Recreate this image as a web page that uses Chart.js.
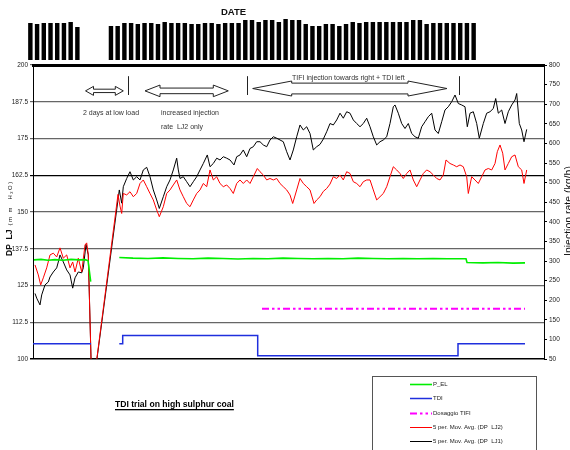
<!DOCTYPE html>
<html>
<head>
<meta charset="utf-8">
<title>TDI trial on high sulphur coal</title>
<script src="https://cdn.jsdelivr.net/npm/chart.js@4.4.1/dist/chart.umd.min.js"></script>
<style>
  html, body { margin: 0; padding: 0; background: #fff; }
  #wrap { position: relative; width: 570px; height: 450px; overflow: hidden; }
  #wrap canvas { position: absolute; left: 0; top: 0; }
  #dateTitle {
    position: absolute; left: 221px; top: 6px; line-height: 12px;
    font: bold 9.5px "Liberation Sans", Arial, sans-serif; color: #111;
  }
</style>
</head>
<body>
<div id="wrap">
  <canvas id="main" width="570" height="450"></canvas>
  <canvas id="dates" width="570" height="65"></canvas>
  <div id="dateTitle">DATE</div>
</div>
<script>
// ---- data ----
// date strip along the top (label lengths, gap = missing days)
const dateBars = [37, 36, 37, 37, 37, 37, 38, 33, null, null, null, null,
  34, 34, 37, 37, 36, 37, 37, 36, 38, 37, 37, 37, 36, 36, 37, 37, 36, 37, 37, 37,
  40, 40, 38, 40, 40, 38, 41, 40, 40, 36, 34, 34, 36, 36, 34, 36, 38, 37, 38, 38,
  38, 38, 38, 38, 38, 40, 40, 36, 37, 37, 37, 37, 37, 37, 37];
const dateSlots = dateBars.map((_, i) => i + 1);

// [time, value] pairs
const lj1 = [[2,122.3],[3.7,120.7],[7,118.4],[8.7,121.8],[12,125.2],[15.3,126.2],[17,127.9],[20.3,129.6],[23.7,131],[25.3,133],[27,135.4],[30.3,133],[33.7,130.3],[37,128.6],[39.7,124.1],[42,127.6],[45.3,129.6],[48.7,129.3],[50.3,131],[53,139],[55.3,135.4],[59,87.3],
  [86.3,157.5],[88.7,153],[90.3,158.6],[93.7,161.4],[97,163.7],[100.3,160.9],[103.7,162],[107,160.9],[110.3,164.3],[113.7,165.2],[117,162],[120.3,157.5],[123.7,154.1],[126.3,151.2],[130.3,155.2],[133.7,158.6],[137,160.9],[140.3,164.3],[143.7,168.3],[145.3,164.3],[147,161.4],[150.3,162],[153.7,160.3],[157,158.6],[160.3,160.3],[163.7,162],[167,164.3],[170.3,166.5],[174.3,169.4],[177,165.4],[180.3,166.5],[183.7,168.3],[187,167.7],[190.3,168.8],[193.7,168.3],[197,167.7],[201,166],[203.7,168.8],[207,169.4],[210.3,171.1],[213.7,168.8],[217,171.6],[220.3,172.2],[223.7,173.9],[227,173.9],[230.3,172.8],[233.7,172.2],[237,174.5],[240.3,175.6],[243.7,175.1],[247,174.5],[250.3,173.9],[253.7,170.5],[257,167.7],[260.3,171.1],[263.7,175.6],[267,179.6],[270.3,177.9],[273.7,179],[277,176.7],[280.3,171.1],[283.7,172.2],[287,173],[290.3,174.8],[293.7,177.3],[297,180.1],[300.3,179.6],[303.7,181.3],[307,183.6],[310.3,181.9],[313.7,184.1],[317,183.6],[320.3,181.3],[323.7,180.1],[327,179],[330.3,180.1],[333.7,181.9],[337,179],[340.3,175.6],[343.7,172.8],[347,173.9],[350.3,174.5],[353.7,175.6],[357,180.1],[360.3,185.8],[362,186.4],[365.3,183.6],[368.7,180.1],[372,178.4],[375.3,180.1],[378.7,176.7],[382,175.6],[385.3,175.1],[388.7,179],[392,180.7],[395.3,182.4],[398.7,183.6],[402,177.9],[405.3,176.7],[408.7,180.7],[412,184.7],[415.3,185.8],[418.7,187.5],[422,189.8],[425.3,186.9],[428.7,186.4],[432,185.8],[434.3,179],[437,183.6],[440.3,184.1],[443.7,180.1],[446.3,175.1],[450.3,180.1],[453.7,183.6],[457,184.1],[460.3,185.2],[462.7,188.6],[465.3,183.6],[468.7,184.7],[472,180.1],[475.3,184.1],[478.7,186.4],[482,188.1],[483.7,190.3],[486.3,180.1],[488.7,177.9],[491,173.9],[493.7,178.1]];

const lj2 = [[2,132],[5.3,128.6],[7.7,125.2],[10.3,127.6],[13.7,131],[17,135.4],[20.3,136],[23.7,134.7],[27,137.8],[30.3,134.3],[33.7,135.4],[37,131],[39.7,133],[42,129.6],[45.3,134.3],[48.7,129.6],[52,138.8],[53.7,139.5],[55.3,135.4],[59,87.3],
  [85,156],[87,152],[88.7,149.5],[90.3,156.3],[93.7,155.8],[97,156.9],[100.3,155.2],[103.7,156.3],[107,159.7],[110.3,160.9],[113.7,158.6],[117,156.3],[120.3,154.1],[123.7,150.7],[126.3,148.4],[130.3,151.8],[133.7,156.3],[137,157.5],[140.3,159.2],[143.7,160.9],[147,157.5],[150.3,155.2],[153.7,152.9],[157,151.8],[160.3,154.1],[163.7,156.3],[167,157.5],[170.3,159.7],[173.7,158.6],[177,164.3],[180.3,160.9],[183.7,162],[187,159.7],[190.3,158.6],[193.7,159.2],[197,158],[200.3,156.3],[203.7,159.7],[207,160.9],[210.3,159.7],[213.7,160.9],[217,159.7],[220.3,162],[224.3,164.8],[227,163.7],[230.3,162.6],[233.7,160.9],[237,161.4],[240.3,160.9],[243.7,161.4],[247,159.7],[250.3,158.6],[253.7,157.5],[257,155.8],[259.7,152.9],[263.7,157.5],[267,161.4],[270.3,159.7],[273.7,158.6],[277,157.5],[281,152.9],[283.7,154.1],[287,155.2],[290.3,157],[293.7,158],[297,159.5],[300.3,162],[303.7,161.4],[307,162.6],[310.3,160.9],[313.7,163.7],[317,163.1],[320.3,160.3],[323.7,159.7],[327,158.6],[330.3,160.3],[333.7,160.9],[337,160.9],[340.3,157.5],[343.7,154.1],[347,155.2],[350.3,156.3],[353.7,158.6],[357,162],[360.3,165.4],[363.7,164.3],[367,163.1],[370.3,161.4],[373.7,163.1],[377,164.3],[380.3,160.9],[383.7,158.6],[387,160.9],[390.3,163.1],[393.7,164.3],[397,163.7],[400.3,162.6],[403.7,161.4],[407,160.9],[410.3,162.6],[413,167.7],[417,166.5],[420.3,166],[423.7,165.4],[427,166],[430.3,165.4],[433.7,162],[435.3,156.3],[438.7,162],[442,160.9],[445.3,159.7],[448.7,162],[452,164.3],[455.3,164.8],[458.7,164.3],[462,166.5],[464.3,170.5],[467,172.8],[469.7,170],[472,164.3],[475.3,166.5],[478.7,168.8],[482,169.4],[485.3,165.4],[488.7,164.3],[491,159.7],[493.7,164.3]];

const pEl = [[1,133.7],[8,133.9],[15,133.6],[22,133.8],[30,133.6],[38,133.9],[46,133.7],[52,133.8],[55,133.5],[57.7,126.3],[70,null],
  [86.3,134.5],[100,134.3],[115,134.2],[130,134.4],[145,134.2],[160,134.1],[175,134.3],[190,134.2],[205,134.0],[220,134.2],[235,134.1],[250,134.3],[265,134.2],[280,134.1],[295,134.2],[310,134.1],[325,134.3],[340,134.2],[355,134.1],[370,134.2],[385,134.1],[400,134.2],[415,134.1],[433,134.1],
  [434,132.8],[450,132.7],[465,132.8],[480,132.6],[492,132.7]];

// injection rates, kg/h (right axis)
const tdi = [[0,89],[58,89],[70,null],[86.3,89],[89.7,110],[224.7,58],[425,89],[492,89]];
const tifi = [[229,178],[492,178]];

// axis ranges
const dpRange = [100, 200, 12.5];
const rateRange = [50, 800, 50];
const timeRange = [0, 511];

// notes over the plot, in data units (time, DP)
const notes = [
  ['2 days at low load', 50, 183.7],
  ['increased injection', 128, 183.7],
  ['rate  LJ2 only', 128, 178.9],
  ['TIFI injection towards right + TDI left', 259, 195.4]
];
// hollow double arrows: from, to, DP level, head length, head half-height, shaft half-height
const spans = [
  [52.5, 90.3, 191.2, 8, 4.5, 1.7],
  [112, 195.3, 191.2, 15, 5.8, 2.8],
  [219.7, 414, 192.0, 39, 7.5, 5.4]
];
const marks = [95.3, 214.3, 426.3];

const FONT = '"Liberation Sans", Arial, sans-serif';
Chart.defaults.font.family = FONT;
Chart.defaults.color = '#222';

// ---- date strip ----
new Chart(document.getElementById('dates'), {
  type: 'bar',
  data: {
    labels: dateSlots,
    datasets: [{ data: dateBars, backgroundColor: '#000', barPercentage: 0.66, categoryPercentage: 1 }]
  },
  options: {
    responsive: false,
    animation: false,
    layout: { padding: { left: 27, right: 93, top: 18, bottom: 5 } },
    plugins: { legend: { display: false }, tooltip: { enabled: false } },
    scales: {
      x: { display: false },
      y: { display: false, min: 0, max: 42 }
    }
  }
});

// ---- main chart ----
const xy = pairs => pairs.map(p => ({ x: p[0], y: p[1] }));

const decor = {
  id: 'decor',
  afterDraw(chart) {
    const { ctx, scales: { x, y } } = chart;
    const px = v => x.getPixelForValue(v);
    const py = v => y.getPixelForValue(v);
    ctx.save();

    // vertical markers
    ctx.strokeStyle = '#222';
    ctx.lineWidth = 1;
    marks.forEach(m => {
      const xx = Math.round(px(m)) + 0.5;
      ctx.beginPath();
      ctx.moveTo(xx, py(189.8));
      ctx.lineTo(xx, py(196.2));
      ctx.stroke();
    });

    // hollow arrows
    spans.forEach(([a, b, lvl, hl, hh, sh]) => {
      const x1 = px(a), x2 = px(b), yc = py(lvl);
      ctx.beginPath();
      ctx.moveTo(x1, yc);
      ctx.lineTo(x1 + hl, yc - hh);
      ctx.lineTo(x1 + hl, yc - sh);
      ctx.lineTo(x2 - hl, yc - sh);
      ctx.lineTo(x2 - hl, yc - hh);
      ctx.lineTo(x2, yc);
      ctx.lineTo(x2 - hl, yc + hh);
      ctx.lineTo(x2 - hl, yc + sh);
      ctx.lineTo(x1 + hl, yc + sh);
      ctx.lineTo(x1 + hl, yc + hh);
      ctx.closePath();
      ctx.fillStyle = '#fff';
      ctx.fill();
      ctx.stroke();
    });

    // notes
    ctx.fillStyle = '#333';
    ctx.font = '7px ' + FONT;
    ctx.textBaseline = 'middle';
    ctx.textAlign = 'left';
    notes.forEach(([t, a, b]) => ctx.fillText(t, px(a), py(b)));

    // left axis title
    ctx.save();
    ctx.translate(12, 256);
    ctx.rotate(-Math.PI / 2);
    ctx.textBaseline = 'alphabetic';
    ctx.fillStyle = '#111';
    ctx.font = 'bold 8.5px ' + FONT;
    ctx.fillText('DP  LJ', 0, 0);
    const w = ctx.measureText('DP  LJ').width;
    ctx.font = '6px ' + FONT;
    ctx.letterSpacing = '1.5px';
    ctx.fillText('(m m  H\u2082O)', w + 4, 0);
    ctx.restore();

    // right axis title
    ctx.save();
    ctx.translate(571.5, 256);
    ctx.rotate(-Math.PI / 2);
    ctx.textBaseline = 'alphabetic';
    ctx.fillStyle = '#111';
    ctx.font = '10.5px ' + FONT;
    ctx.fillText('Injection rate (kg/h)', 0, 0);
    ctx.restore();

    // chart title, underlined
    ctx.fillStyle = '#000';
    ctx.font = 'bold 8.6px ' + FONT;
    ctx.textBaseline = 'alphabetic';
    const title = 'TDI trial on high sulphur coal';
    ctx.fillText(title, 115, 407);
    const tw = ctx.measureText(title).width;
    ctx.fillRect(115, 409, tw, 1.3);

    // legend box
    ctx.strokeStyle = '#555';
    ctx.lineWidth = 1;
    ctx.strokeRect(372.5, 376.5, 164, 90);
    ctx.font = '6px ' + FONT;
    ctx.textBaseline = 'middle';
    chart.data.datasets.forEach((ds, i) => {
      const ly = Math.round(384 + i * 14.3) + 0.5;
      ctx.strokeStyle = ds.borderColor;
      ctx.lineWidth = ds.borderWidth;
      ctx.setLineDash(ds.borderDash || []);
      ctx.beginPath();
      ctx.moveTo(410, ly);
      ctx.lineTo(432, ly);
      ctx.stroke();
      ctx.setLineDash([]);
      ctx.fillStyle = '#222';
      ctx.fillText(ds.label, 433, ly);
    });
    ctx.restore();
  }
};

new Chart(document.getElementById('main'), {
  type: 'line',
  data: {
    datasets: [
      { label: 'P_EL', data: xy(pEl), yAxisID: 'y', borderColor: '#00ee00', borderWidth: 1.6 },
      { label: 'TDI', data: xy(tdi), yAxisID: 'y2', borderColor: '#1f2fdd', borderWidth: 1.5, stepped: 'before' },
      { label: 'Dosaggio TIFI', data: xy(tifi), yAxisID: 'y2', borderColor: '#ff00ff', borderWidth: 2,
        borderDash: [7, 3, 2.5, 3, 2.5, 3] },
      { label: '5 per. Mov. Avg. (DP  LJ2)', data: xy(lj2), yAxisID: 'y', borderColor: '#ff0000', borderWidth: 1 },
      { label: '5 per. Mov. Avg. (DP  LJ1)', data: xy(lj1), yAxisID: 'y', borderColor: '#000000', borderWidth: 1 }
    ]
  },
  options: {
    responsive: false,
    animation: false,
    layout: { padding: { top: 65, bottom: 91, left: 0, right: 0 } },
    elements: { point: { radius: 0 }, line: { tension: 0 } },
    plugins: { legend: { display: false }, tooltip: { enabled: false } },
    scales: {
      x: {
        type: 'linear', position: 'top', min: timeRange[0], max: timeRange[1],
        ticks: { display: false },
        grid: { display: true, drawOnChartArea: false, drawTicks: false },
        border: { display: true, width: 3, color: '#000' },
        afterFit: s => { s.height = 0; }
      },
      y: {
        position: 'left', min: dpRange[0], max: dpRange[1],
        ticks: { stepSize: dpRange[2], autoSkip: false, padding: 2, font: { size: 6.5 }, color: '#222' },
        grid: {
          color: c => (c.tick && (c.tick.value === 162.5 || c.tick.value === 100)) ? '#000' : '#666',
          lineWidth: c => (c.tick && c.tick.value === 100) ? 1.5 : 1.2,
          tickLength: 3
        },
        border: { display: true, color: '#000', width: 1 },
        afterFit: s => { s.width = 33; }
      },
      y2: {
        position: 'right', min: rateRange[0], max: rateRange[1],
        ticks: { stepSize: rateRange[2], autoSkip: false, padding: 2, font: { size: 6.5 }, color: '#222' },
        grid: { drawOnChartArea: false, color: '#000', tickLength: 3 },
        border: { display: true, color: '#000', width: 1 },
        afterFit: s => { s.width = 26; }
      }
    }
  },
  plugins: [decor]
});
</script>
</body>
</html>
